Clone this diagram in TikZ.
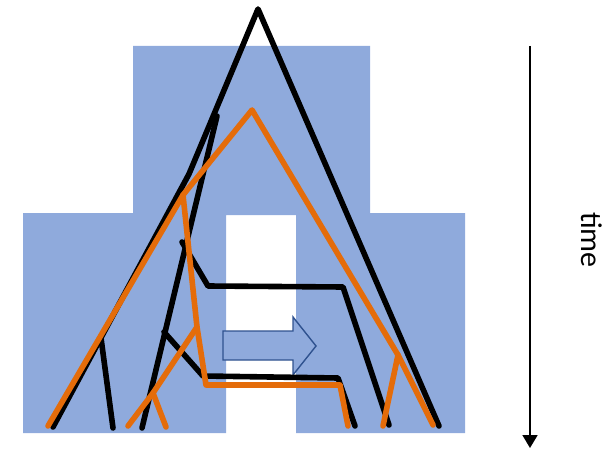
\documentclass[tikz,border=0pt]{standalone}
\usepackage{fontspec}
\setmainfont{Carlito}
\usetikzlibrary{arrows.meta}
\definecolor{bgblue}{HTML}{8FAADC}
\definecolor{arrowblue}{HTML}{2F528F}
\definecolor{treeorange}{HTML}{E46C0A}
\begin{document}
\begin{tikzpicture}[x=1pt,y=-1pt,
  blacktree/.style={draw=black,line width=5.6pt,line cap=round,line join=round},
  orangetree/.style={draw=treeorange,line width=5.6pt,line cap=round,line join=round},
  species/.style={fill=bgblue,draw=none},
  migration/.style={fill=bgblue,draw=arrowblue,line width=1.4pt,line join=miter},
  timeaxis/.style={draw=black,line width=1.8pt,-{Triangle[width=15pt,length=13pt]}}]
\useasboundingbox (0,0) rectangle (612,449);
% species tree (blue)
\path[species] (23,213) -- (133,213) -- (133,46) -- (370,46) -- (370,213) -- (465,213)
  -- (465,433) -- (296,433) -- (296,215) -- (226,215) -- (226,433) -- (23,433) -- cycle;
% migration arrow
\path[migration] (223,331) -- (293,331) -- (293,317) -- (316,346) -- (293,375) -- (293,360) -- (223,360) -- cycle;
% black gene tree
\coordinate (bA) at (258,9);
\coordinate (bL) at (189,174);
\coordinate (bL1) at (53,427);
\coordinate (bR1) at (439,426);
\coordinate (bS) at (101,338);
\coordinate (bS1) at (113,428);
\coordinate (bT) at (217,116);
\coordinate (bT1) at (142,428);
\coordinate (bU0) at (182,242);
\coordinate (bU1) at (208,286);
\coordinate (bU2) at (343,287);
\coordinate (bU3) at (389,425);
\coordinate (bV0) at (164,332);
\coordinate (bV1) at (203,376);
\coordinate (bV2) at (338,378);
\coordinate (bV3) at (355,426);
\draw[blacktree] (bL1) -- (bL) -- (bA) -- (bR1);
\draw[blacktree] (bS) -- (bS1);
\draw[blacktree] (bT1) -- (bT);
\draw[blacktree] (bU0) -- (bU1) -- (bU2) -- (bU3);
\draw[blacktree] (bV0) -- (bV1) -- (bV2) -- (bV3);
% orange gene tree
\coordinate (oA) at (252,110);
\coordinate (oL) at (183,195);
\coordinate (oL1) at (48,426);
\coordinate (oR) at (398,355);
\coordinate (oR1) at (433,425);
\coordinate (oR2) at (383,426);
\coordinate (oM) at (197,327);
\coordinate (oM1) at (206,385);
\coordinate (oM2) at (340,385);
\coordinate (oM3) at (348,426);
\coordinate (oN) at (153,393);
\coordinate (oN1) at (128,426);
\coordinate (oN2) at (166,427);
\draw[orangetree] (oL1) -- (oL) -- (oA) -- (oR) -- (oR1);
\draw[orangetree] (oR) -- (oR2);
\draw[orangetree] (oL) -- (oM) -- (oM1) -- (oM2) -- (oM3);
\draw[orangetree] (oM) -- (oN) -- (oN1);
\draw[orangetree] (oN) -- (oN2);
% time axis
\coordinate (t0) at (530,46);
\coordinate (t1) at (530,448);
\draw[timeaxis] (t0) -- (t1);
\node[rotate=-90,font=\fontsize{30}{36}\selectfont,inner sep=0pt] (timelabel) at (592,240) {time};
\end{tikzpicture}
\end{document}
